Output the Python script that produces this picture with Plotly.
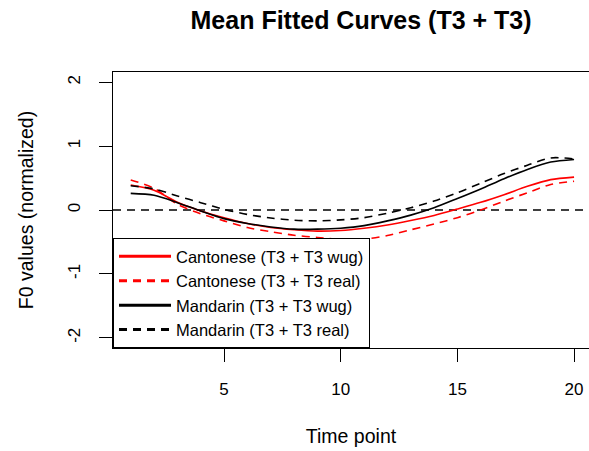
import plotly.graph_objects as go

# Data
time_points = list(range(1, 21))
cantonese_wug = [0.39, 0.31, 0.12, -0.015, -0.12, -0.21, -0.275, -0.31, -0.33, -0.32,
                 -0.285, -0.235, -0.165, -0.085, 0.015, 0.12, 0.24, 0.37, 0.475, 0.515]
cantonese_real = [0.47, 0.34, 0.09, -0.06, -0.17, -0.275, -0.34, -0.395, -0.43, -0.46,
                  -0.455, -0.40, -0.31, -0.22, -0.12, 0.0, 0.14, 0.27, 0.40, 0.45]
mandarin_wug = [0.26, 0.23, 0.115, -0.015, -0.135, -0.21, -0.265, -0.30, -0.30, -0.285,
                -0.245, -0.17, -0.08, 0.035, 0.18, 0.33, 0.49, 0.635, 0.75, 0.79]
mandarin_real = [0.38, 0.33, 0.22, 0.115, 0.01, -0.07, -0.125, -0.16, -0.17, -0.155,
                 -0.12, -0.05, 0.035, 0.14, 0.27, 0.42, 0.57, 0.70, 0.815, 0.80]
x_ticks = [5, 10, 15, 20]
x_tick_labels = ["5", "10", "15", "20"]
y_ticks = [-2, -1, 0, 1, 2]
y_tick_labels = ["-2", "-1", "0", "1", "2"]
reference_level = 0

series = [
    ("Cantonese (T3 + T3 wug)", cantonese_wug, "#ff0000", "solid"),
    ("Cantonese (T3 + T3 real)", cantonese_real, "#ff0000", "8px,6px"),
    ("Mandarin (T3 + T3 wug)", mandarin_wug, "#000000", "solid"),
    ("Mandarin (T3 + T3 real)", mandarin_real, "#000000", "8px,6px"),
]

FONT = "Liberation Sans, Arial, Helvetica, sans-serif"

fig = go.Figure()
for name, vals, color, dash in series:
    fig.add_trace(go.Scatter(
        x=time_points, y=vals, mode="lines", name=name, showlegend=False,
        line=dict(color=color, width=1.6, dash=dash, shape="spline", smoothing=0.8),
    ))
# legend-only entries (thicker sample lines, like the reference)
for name, vals, color, dash in series:
    fig.add_trace(go.Scatter(
        x=[None], y=[None], mode="lines", name=name, showlegend=True,
        line=dict(color=color, width=3, dash=dash),
    ))

fig.add_shape(type="line", xref="paper", x0=0, x1=1, yref="y",
              y0=reference_level, y1=reference_level,
              line=dict(color="#000000", width=1.3, dash="8px,6px"), layer="below")

fig.update_layout(
    width=589, height=451,
    margin=dict(l=113, r=0, t=72, b=103, autoexpand=False),
    paper_bgcolor="white", plot_bgcolor="white",
    font=dict(family=FONT, color="#000000", size=17),
    title=dict(text="Mean Fitted Curves (T3 + T3)", xref="container", x=0.613,
               xanchor="center", yref="container", y=1 - 20 / 451, yanchor="middle",
               automargin=False,
               font=dict(size=25, weight="bold", family=FONT, color="#000000")),
    showlegend=True,
    legend=dict(x=0, y=0, xanchor="left", yanchor="bottom", xref="paper", yref="paper",
                bgcolor="white", bordercolor="#000000", borderwidth=1,
                font=dict(size=16.5, family=FONT, color="#000000"),
                itemwidth=52, tracegroupgap=0),
    xaxis=dict(range=[0.24, 20.64], tickvals=x_ticks, ticktext=x_tick_labels,
               ticks="outside", ticklen=13, automargin=False,
               tickwidth=1, tickcolor="#000000", showgrid=False, zeroline=False,
               showline=True, mirror=True, linecolor="#000000", linewidth=1,
               tickfont=dict(size=17), ticklabelstandoff=13,
               title=dict(text="Time point", font=dict(size=19.5), standoff=30)),
    yaxis=dict(range=[-2.16, 2.16], tickvals=y_ticks, ticktext=y_tick_labels,
               ticks="outside", ticklen=13, automargin=False,
               tickwidth=1, tickcolor="#000000", showgrid=False, zeroline=False,
               showline=True, mirror=False, linecolor="#000000", linewidth=1,
               tickangle=-90, tickfont=dict(size=17), ticklabelstandoff=12,
               title=dict(text="F0 values (normalized)", font=dict(size=19.5), standoff=26)),
)

fig.write_html(
    "out.html",
    config={"displayModeBar": False},
    post_script="document.body.style.margin='0px';document.body.style.overflow='hidden';",
)
